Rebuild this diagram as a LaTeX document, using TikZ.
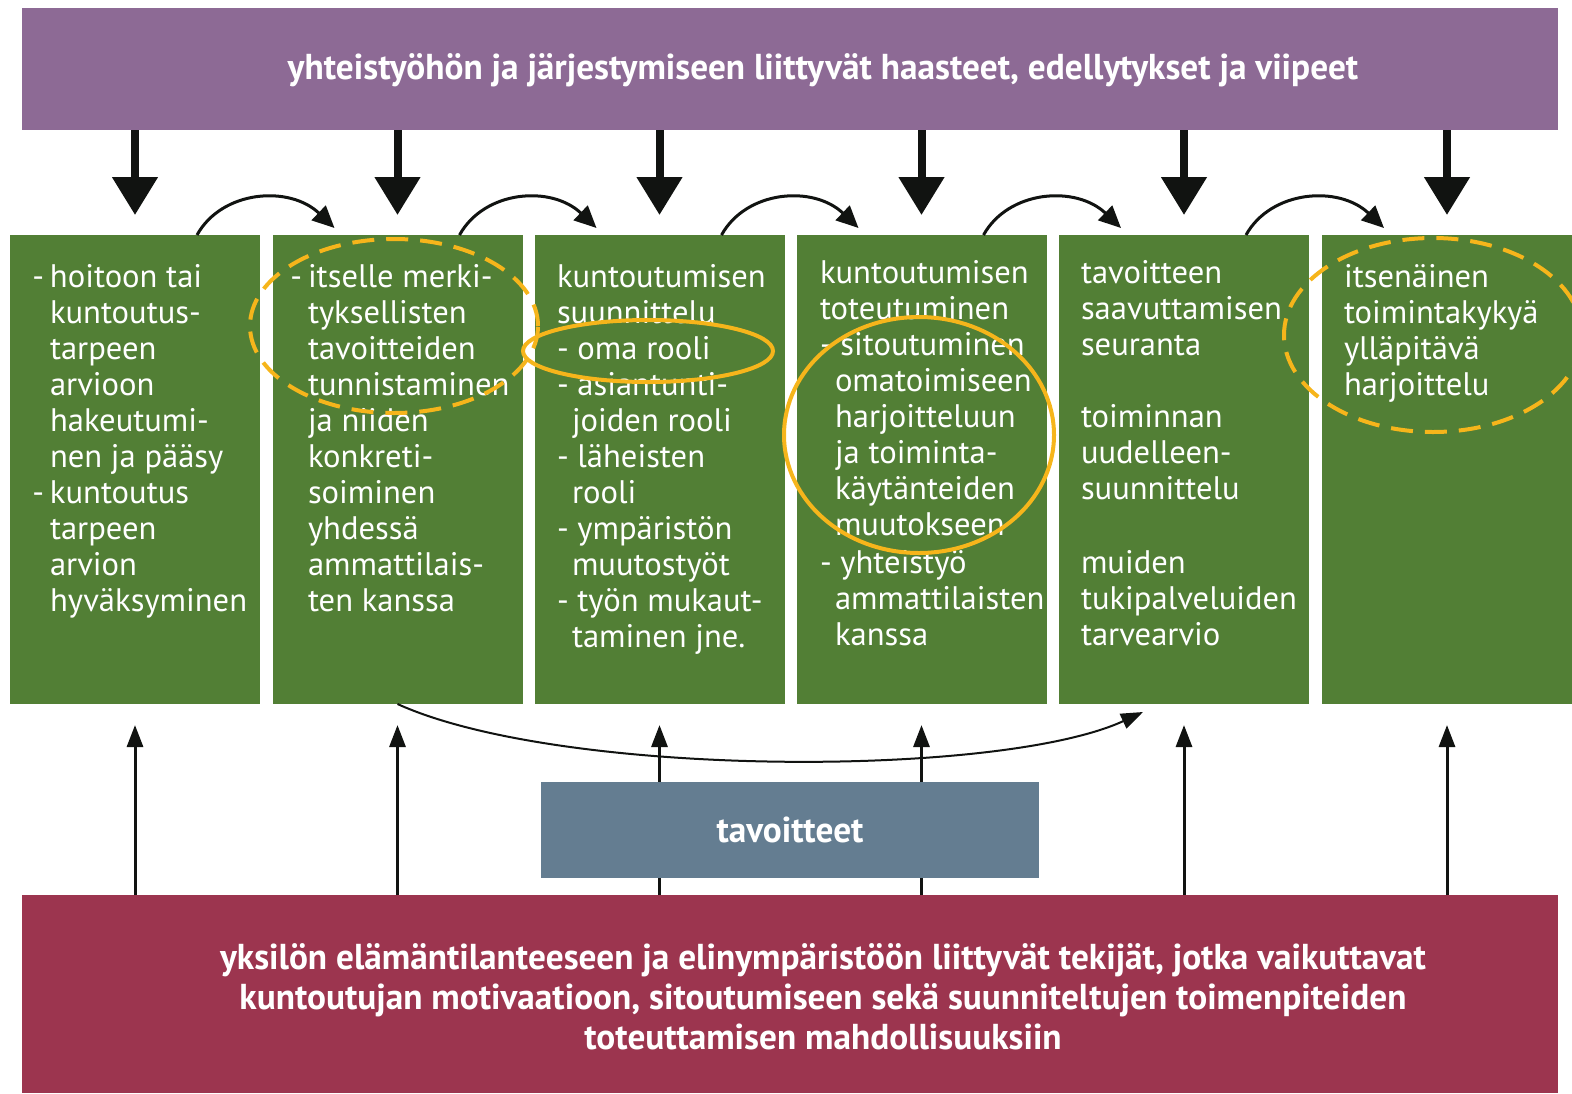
\documentclass[tikz,border=0pt]{standalone}
\usepackage{fontspec}
\setmainfont{PT Sans}
\newfontfamily\titlefont{PT Sans}[FakeStretch=0.98]
\usetikzlibrary{arrows.meta,shapes.geometric}
\definecolor{purp}{HTML}{8D6A95}
\definecolor{boxgreen}{HTML}{527F35}
\definecolor{bluegrey}{HTML}{647D91}
\definecolor{wine}{HTML}{9C354F}
\definecolor{hilite}{HTML}{F6B51B}
\definecolor{arrowblack}{HTML}{111311}
\newcommand\mydash{\llap{-\hspace{6pt}}}
\newcommand\myind{\hspace*{15pt}}
\begin{document}
\begin{tikzpicture}[x=1pt,y=-1pt,
  bar/.style={inner sep=0, outer sep=0, text=white, align=center},
  gbox/.style={fill=boxgreen, minimum width=250, minimum height=469, inner sep=0, outer sep=0},
  btext/.style={anchor=north west, inner sep=0, outer sep=0, align=left, text=white, font=\fontsize{32.6}{36}\selectfont},
  boldtext/.style={text=white, align=center, inner sep=0, font=\titlefont\bfseries\fontsize{36}{40}\selectfont},
  downarrow/.style={draw=arrowblack, line width=8pt, -{Triangle[width=44pt,length=38pt]}},
  uparrow/.style={draw=arrowblack, line width=3pt, -{Triangle[width=16pt,length=22pt]}},
  hoparrow/.style={draw=arrowblack, line width=3pt, -{Triangle[width=20pt,length=22pt]}},
  longarrow/.style={draw=arrowblack, line width=2pt, -{Triangle[width=16pt,length=22pt]}},
  solidring/.style={ellipse, draw=hilite, line width=4pt, inner sep=0},
  dashring/.style={ellipse, draw=hilite, line width=4pt, inner sep=0, dash pattern=on 22pt off 12pt},
]
\useasboundingbox (0,0) rectangle (1572,1093);

% top bar
\node[bar, fill=purp, minimum width=1536, minimum height=122] (top) at (790,69) {};
\node[boldtext] (toptext) at (823,70)
  {yhteistyöhön ja järjestymiseen liittyvät haasteet, edellytykset ja viipeet};

% green boxes
\node[gbox] (g1) at (135,469.5) {};
\node[gbox] (g2) at (397.5,469.5) {};
\node[gbox] (g3) at (659.5,469.5) {};
\node[gbox] (g4) at (921.5,469.5) {};
\node[gbox] (g5) at (1184,469.5) {};
\node[gbox] (g6) at (1447,469.5) {};

% bottom bar
\node[bar, fill=wine, minimum width=1536, minimum height=198] (bot) at (790,994) {};
\node[boldtext] (bottext) at (823,997)
  {yksilön elämäntilanteeseen ja elinympäristöön liittyvät tekijät, jotka vaikuttavat\\
   kuntoutujan motivaatioon, sitoutumiseen sekä suunniteltujen toimenpiteiden\\
   toteuttamisen mahdollisuuksiin};

% thick down arrows
\foreach \g in {g1,g2,g3,g4,g5,g6}
  \draw[downarrow] (top.south -| \g.north) -- ([yshift=20pt]\g.north);

% up arrows from bottom bar
\foreach \g in {g1,g2,g3,g4,g5,g6}
  \draw[uparrow] (bot.north -| \g.south) -- ([yshift=-21pt]\g.south);

% goals box (over the arrows)
\node[bar, fill=bluegrey, minimum width=498, minimum height=96, boldtext] (goal) at (790,830) {tavoitteet};

% hop arrows between boxes
\foreach \a/\b in {g1/g2,g2/g3,g3/g4,g4/g5,g5/g6}
  \draw[hoparrow] ([shift={(187,0)}]\a.north west) .. controls +(25,-45) and +(-45,-43) .. ([shift={(62,-7)}]\b.north west);

% long arrow under boxes
\draw[longarrow] (g2.south) .. controls +(163,74) and +(-143,66) .. ([shift={(84,8)}]g5.south west);

% box texts
\node[btext] (t1) at (50,261.8) {\strut\mydash hoitoon tai\\ kuntoutus-\\ tarpeen\\ arvioon\\ hakeutumi-\\ nen ja pääsy\\ \mydash kuntoutus\\ tarpeen\\ arvion\\ hyväksyminen};
\node[btext] (t2) at (308,261.8) {\strut\mydash itselle merki-\\ tyksellisten\\ tavoitteiden\\ tunnistaminen\\ ja niiden\\ konkreti-\\ soiminen\\ yhdessä\\ ammattilais-\\ ten kanssa};
\node[btext] (t3) at (557,261.8) {\strut kuntoutumisen\\ suunnittelu\\ - oma rooli\\ - asiantunti-\\ \myind joiden rooli\\ - läheisten\\ \myind rooli\\ - ympäristön\\ \myind muutostyöt\\ - työn mukaut-\\ \myind taminen jne.};
\node[btext] (t4) at (820,257.8) {\strut kuntoutumisen\\ toteutuminen\\ - sitoutuminen\\ \myind omatoimiseen\\ \myind harjoitteluun\\ \myind ja toiminta-\\ \myind käytänteiden\\ \myind muutokseen\\[2pt] - yhteistyö\\ \myind ammattilaisten\\ \myind kanssa};
\node[btext] (t5) at (1081,257.8) {\strut tavoitteen\\ saavuttamisen\\ seuranta\\[36pt] toiminnan\\ uudelleen-\\ suunnittelu\\[38pt] muiden\\ tukipalveluiden\\ tarvearvio};
\node[btext] (t6) at (1344,261.8) {\strut itsenäinen\\ toimintakykyä\\ ylläpitävä\\ harjoittelu};

% highlight rings
\node[dashring, minimum width=288, minimum height=174] (e1) at (394,326) {};
\node[solidring, minimum width=250, minimum height=62] (e2) at (648,351) {};
\node[solidring, minimum width=270, minimum height=236] (e3) at (919,435) {};
\node[dashring, minimum width=298, minimum height=194] (e4) at (1433,335) {};
\end{tikzpicture}
\end{document}
